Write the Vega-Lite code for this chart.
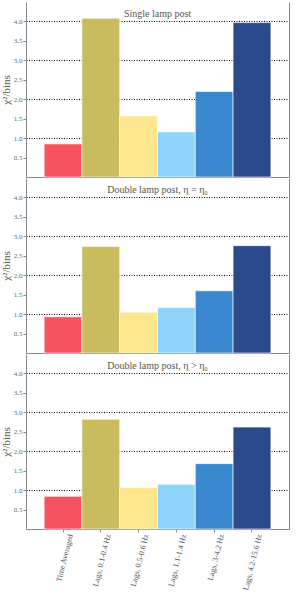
{
  "$schema": "https://vega.github.io/schema/vega-lite/v6.json",
  "padding": {"left": 0, "top": 2, "right": 8, "bottom": 5},
  "background": "white",
  "spacing": 0,
  "data": {"values": [
    {"panel": "A", "cat": "Time Averaged", "value": 0.85},
    {"panel": "A", "cat": "Lags, 0.1-0.4 Hz", "value": 4.08},
    {"panel": "A", "cat": "Lags, 0.5-0.6 Hz", "value": 1.57},
    {"panel": "A", "cat": "Lags, 1.1-1.4 Hz", "value": 1.16},
    {"panel": "A", "cat": "Lags, 3-4.2 Hz", "value": 2.2},
    {"panel": "A", "cat": "Lags, 4.2-15.6 Hz", "value": 3.97},
    {"panel": "B", "cat": "Time Averaged", "value": 0.93},
    {"panel": "B", "cat": "Lags, 0.1-0.4 Hz", "value": 2.74},
    {"panel": "B", "cat": "Lags, 0.5-0.6 Hz", "value": 1.05},
    {"panel": "B", "cat": "Lags, 1.1-1.4 Hz", "value": 1.17},
    {"panel": "B", "cat": "Lags, 3-4.2 Hz", "value": 1.6},
    {"panel": "B", "cat": "Lags, 4.2-15.6 Hz", "value": 2.76},
    {"panel": "C", "cat": "Time Averaged", "value": 0.84},
    {"panel": "C", "cat": "Lags, 0.1-0.4 Hz", "value": 2.82},
    {"panel": "C", "cat": "Lags, 0.5-0.6 Hz", "value": 1.07},
    {"panel": "C", "cat": "Lags, 1.1-1.4 Hz", "value": 1.15},
    {"panel": "C", "cat": "Lags, 3-4.2 Hz", "value": 1.68},
    {"panel": "C", "cat": "Lags, 4.2-15.6 Hz", "value": 2.62}
  ]},
  "config": {
    "view": {"stroke": null},
    "font": "Liberation Serif",
    "axis": {
      "labelFont": "Liberation Serif",
      "titleFont": "Liberation Serif",
      "labelColor": "#666",
      "titleColor": "#555",
      "domainColor": "#888",
      "tickColor": "#888",
      "labelFontSize": 7,
      "tickSize": 3,
      "titleFontWeight": "normal"
    },
    "title": {"font": "Liberation Serif", "fontWeight": "normal", "fontSize": 10, "color": "#555", "anchor": "middle", "frame": "group", "offset": -17, "baseline": "alphabetic"}
  },
  "vconcat": [
    {
      "title": "Single lamp post",
      "width": 263, "height": 175,
      "transform": [{"filter": "datum.panel === 'A'"}],
      "layer": [
        {
          "mark": {"type": "bar", "stroke": "#fff", "strokeWidth": 1, "strokeOpacity": 0.6},
          "encoding": {
            "x": {"field": "cat", "type": "nominal", "sort": null,
              "scale": {"paddingInner": 0, "paddingOuter": 0.48},
              "axis": {"labels": false, "ticks": false, "title": null}},
            "y": {"field": "value", "type": "quantitative",
              "scale": {"domain": [0, 4.5], "nice": false},
              "axis": {"values": [0.5, 1, 1.5, 2, 2.5, 3, 3.5, 4], "format": ".1f", "title": "χ²/bins", "titleFontSize": 11, "titlePadding": 2, "labelPadding": 1,
                "grid": true, "gridColor": "#000", "gridDash": [1, 1.5], "gridWidth": 1,
                "gridOpacity": {"condition": {"test": "datum.value % 1 === 0", "value": 1}, "value": 0}}},
            "color": {"field": "cat", "type": "nominal", "sort": null, "legend": null,
              "scale": {"domain": ["Time Averaged", "Lags, 0.1-0.4 Hz", "Lags, 0.5-0.6 Hz", "Lags, 1.1-1.4 Hz", "Lags, 3-4.2 Hz", "Lags, 4.2-15.6 Hz"],
                "range": ["#f7525f", "#c9bc5f", "#fee68e", "#8fd5fb", "#3a89cf", "#2a4a8c"]}}
          }
        },
        {
          "mark": {"type": "bar", "opacity": 0},
          "encoding": {
            "x": {"field": "cat", "type": "nominal", "sort": null},
            "y": {"field": "value", "type": "quantitative", "axis": {"orient": "right", "labels": false, "ticks": false, "grid": false, "title": null}}
          }
        }
      ],
      "resolve": {"axis": {"y": "independent"}}
    },
    {
      "title": "Double lamp post, η = η₀",
      "width": 263, "height": 175,
      "transform": [{"filter": "datum.panel === 'B'"}],
      "layer": [
        {
          "mark": {"type": "bar", "stroke": "#fff", "strokeWidth": 1, "strokeOpacity": 0.6},
          "encoding": {
            "x": {"field": "cat", "type": "nominal", "sort": null,
              "scale": {"paddingInner": 0, "paddingOuter": 0.48},
              "axis": {"labels": false, "ticks": false, "title": null}},
            "y": {"field": "value", "type": "quantitative",
              "scale": {"domain": [0, 4.5], "nice": false},
              "axis": {"values": [0.5, 1, 1.5, 2, 2.5, 3, 3.5, 4], "format": ".1f", "title": "χ²/bins", "titleFontSize": 11, "titlePadding": 2, "labelPadding": 1,
                "grid": true, "gridColor": "#000", "gridDash": [1, 1.5], "gridWidth": 1,
                "gridOpacity": {"condition": {"test": "datum.value % 1 === 0", "value": 1}, "value": 0}}},
            "color": {"field": "cat", "type": "nominal", "sort": null, "legend": null,
              "scale": {"domain": ["Time Averaged", "Lags, 0.1-0.4 Hz", "Lags, 0.5-0.6 Hz", "Lags, 1.1-1.4 Hz", "Lags, 3-4.2 Hz", "Lags, 4.2-15.6 Hz"],
                "range": ["#f7525f", "#c9bc5f", "#fee68e", "#8fd5fb", "#3a89cf", "#2a4a8c"]}}
          }
        },
        {
          "mark": {"type": "bar", "opacity": 0},
          "encoding": {
            "x": {"field": "cat", "type": "nominal", "sort": null},
            "y": {"field": "value", "type": "quantitative", "axis": {"orient": "right", "labels": false, "ticks": false, "grid": false, "title": null}}
          }
        }
      ],
      "resolve": {"axis": {"y": "independent"}}
    },
    {
      "title": "Double lamp post, η > η₀",
      "width": 263, "height": 175,
      "transform": [{"filter": "datum.panel === 'C'"}],
      "layer": [
        {
          "mark": {"type": "bar", "stroke": "#fff", "strokeWidth": 1, "strokeOpacity": 0.6},
          "encoding": {
            "x": {"field": "cat", "type": "nominal", "sort": null,
              "scale": {"paddingInner": 0, "paddingOuter": 0.48},
              "axis": {"title": null, "labelAngle": -76, "labelAlign": "right", "labelBaseline": "middle", "labelOffset": 8, "labelPadding": 2, "labelFontSize": 8, "labelColor": "#555"}},
            "y": {"field": "value", "type": "quantitative",
              "scale": {"domain": [0, 4.5], "nice": false},
              "axis": {"values": [0.5, 1, 1.5, 2, 2.5, 3, 3.5, 4], "format": ".1f", "title": "χ²/bins", "titleFontSize": 11, "titlePadding": 2, "labelPadding": 1,
                "grid": true, "gridColor": "#000", "gridDash": [1, 1.5], "gridWidth": 1,
                "gridOpacity": {"condition": {"test": "datum.value % 1 === 0", "value": 1}, "value": 0}}},
            "color": {"field": "cat", "type": "nominal", "sort": null, "legend": null,
              "scale": {"domain": ["Time Averaged", "Lags, 0.1-0.4 Hz", "Lags, 0.5-0.6 Hz", "Lags, 1.1-1.4 Hz", "Lags, 3-4.2 Hz", "Lags, 4.2-15.6 Hz"],
                "range": ["#f7525f", "#c9bc5f", "#fee68e", "#8fd5fb", "#3a89cf", "#2a4a8c"]}}
          }
        },
        {
          "mark": {"type": "bar", "opacity": 0},
          "encoding": {
            "x": {"field": "cat", "type": "nominal", "sort": null},
            "y": {"field": "value", "type": "quantitative", "axis": {"orient": "right", "labels": false, "ticks": false, "grid": false, "title": null}}
          }
        }
      ],
      "resolve": {"axis": {"y": "independent"}}
    }
  ]
}
